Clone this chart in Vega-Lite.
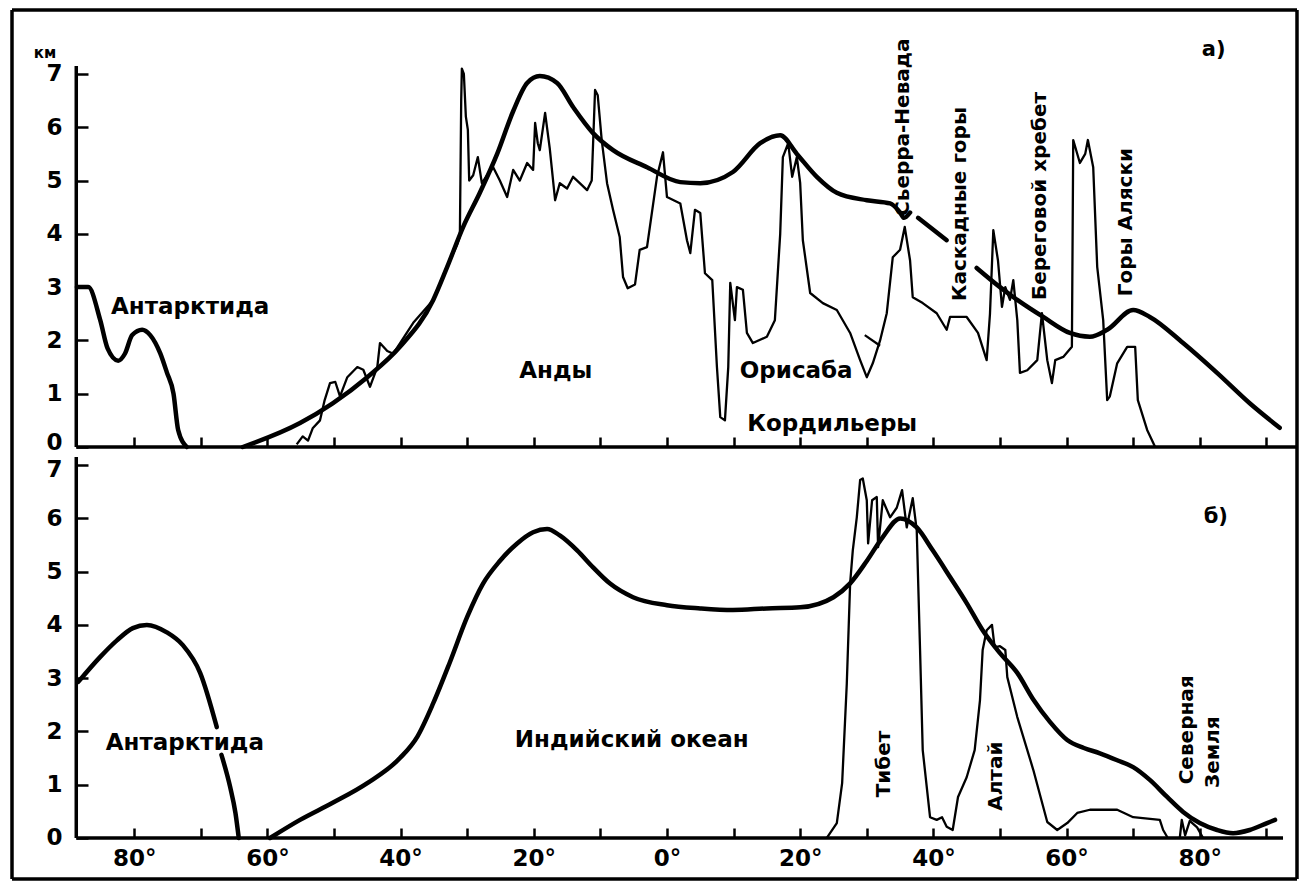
{
 "$schema": "https://vega.github.io/schema/vega-lite/v6.json",
 "background": "white",
 "padding": {"left": 10, "top": 8, "right": 2, "bottom": 2},
 "spacing": 0,
 "bounds": "flush",
 "datasets": {
  "lines": [
   {"p":"a","s":"smooth","g":1,"lon":-88.6,"km":3.0},{"p":"a","s":"smooth","g":1,"lon":-86.9,"km":3.0},{"p":"a","s":"smooth","g":1,"lon":-85.1,"km":2.38},{"p":"a","s":"smooth","g":1,"lon":-84.0,"km":1.85},{"p":"a","s":"smooth","g":1,"lon":-82.4,"km":1.62},{"p":"a","s":"smooth","g":1,"lon":-81.4,"km":1.75},{"p":"a","s":"smooth","g":1,"lon":-80.3,"km":2.1},{"p":"a","s":"smooth","g":1,"lon":-78.8,"km":2.2},{"p":"a","s":"smooth","g":1,"lon":-77.6,"km":2.1},{"p":"a","s":"smooth","g":1,"lon":-76.1,"km":1.76},{"p":"a","s":"smooth","g":1,"lon":-75.1,"km":1.4},{"p":"a","s":"smooth","g":1,"lon":-74.1,"km":1.0},{"p":"a","s":"smooth","g":1,"lon":-73.4,"km":0.32},{"p":"a","s":"smooth","g":1,"lon":-72.1,"km":0.0},
   {"p":"a","s":"smooth","g":2,"lon":-63.7,"km":0},{"p":"a","s":"smooth","g":2,"lon":-55.1,"km":0.45},{"p":"a","s":"smooth","g":2,"lon":-50.2,"km":0.82},{"p":"a","s":"smooth","g":2,"lon":-45.0,"km":1.31},{"p":"a","s":"smooth","g":2,"lon":-40.1,"km":1.88},{"p":"a","s":"smooth","g":2,"lon":-35.1,"km":2.76},{"p":"a","s":"smooth","g":2,"lon":-33.0,"km":3.38},{"p":"a","s":"smooth","g":2,"lon":-30.6,"km":4.13},{"p":"a","s":"smooth","g":2,"lon":-28.1,"km":4.77},{"p":"a","s":"smooth","g":2,"lon":-25.5,"km":5.5},{"p":"a","s":"smooth","g":2,"lon":-23.1,"km":6.3},{"p":"a","s":"smooth","g":2,"lon":-21.0,"km":6.83},{"p":"a","s":"smooth","g":2,"lon":-19.1,"km":6.96},{"p":"a","s":"smooth","g":2,"lon":-16.5,"km":6.83},{"p":"a","s":"smooth","g":2,"lon":-14.1,"km":6.38},{"p":"a","s":"smooth","g":2,"lon":-11.1,"km":5.89},{"p":"a","s":"smooth","g":2,"lon":-8.1,"km":5.57},{"p":"a","s":"smooth","g":2,"lon":-3.0,"km":5.25},{"p":"a","s":"smooth","g":2,"lon":2.0,"km":4.97},{"p":"a","s":"smooth","g":2,"lon":5.0,"km":4.95},{"p":"a","s":"smooth","g":2,"lon":9.9,"km":5.16},{"p":"a","s":"smooth","g":2,"lon":14.0,"km":5.7},{"p":"a","s":"smooth","g":2,"lon":17.0,"km":5.85},{"p":"a","s":"smooth","g":2,"lon":19.5,"km":5.5},{"p":"a","s":"smooth","g":2,"lon":22.5,"km":5.07},{"p":"a","s":"smooth","g":2,"lon":25.5,"km":4.77},{"p":"a","s":"smooth","g":2,"lon":30.0,"km":4.63},{"p":"a","s":"smooth","g":2,"lon":33.5,"km":4.57},{"p":"a","s":"smooth","g":2,"lon":35.0,"km":4.4},{"p":"a","s":"smooth","g":2,"lon":35.6,"km":4.3},{"p":"a","s":"smooth","g":2,"lon":36.5,"km":4.4},
   {"p":"a","s":"smooth","g":3,"lon":37.7,"km":4.3},{"p":"a","s":"smooth","g":3,"lon":42.0,"km":3.88},
   {"p":"a","s":"smooth","g":4,"lon":46.5,"km":3.36},{"p":"a","s":"smooth","g":4,"lon":50.0,"km":3.0},{"p":"a","s":"smooth","g":4,"lon":52.6,"km":2.76},{"p":"a","s":"smooth","g":4,"lon":56.5,"km":2.44},{"p":"a","s":"smooth","g":4,"lon":60.5,"km":2.14},{"p":"a","s":"smooth","g":4,"lon":63.5,"km":2.07},{"p":"a","s":"smooth","g":4,"lon":66.1,"km":2.2},{"p":"a","s":"smooth","g":4,"lon":70.0,"km":2.57},{"p":"a","s":"smooth","g":4,"lon":72.5,"km":2.44},{"p":"a","s":"smooth","g":4,"lon":77.5,"km":1.95},{"p":"a","s":"smooth","g":4,"lon":82.6,"km":1.39},{"p":"a","s":"smooth","g":4,"lon":87.5,"km":0.82},{"p":"a","s":"smooth","g":4,"lon":92.0,"km":0.36},

   {"p":"a","s":"relief","g":1,"lon":-55.6,"km":0.05},{"p":"a","s":"relief","g":1,"lon":-54.7,"km":0.2},{"p":"a","s":"relief","g":1,"lon":-53.9,"km":0.12},{"p":"a","s":"relief","g":1,"lon":-53.2,"km":0.35},{"p":"a","s":"relief","g":1,"lon":-52.1,"km":0.5},{"p":"a","s":"relief","g":1,"lon":-51.4,"km":0.88},{"p":"a","s":"relief","g":1,"lon":-50.6,"km":1.2},{"p":"a","s":"relief","g":1,"lon":-49.8,"km":1.22},{"p":"a","s":"relief","g":1,"lon":-49.1,"km":0.95},{"p":"a","s":"relief","g":1,"lon":-48.0,"km":1.31},{"p":"a","s":"relief","g":1,"lon":-46.5,"km":1.5},{"p":"a","s":"relief","g":1,"lon":-45.6,"km":1.45},{"p":"a","s":"relief","g":1,"lon":-44.6,"km":1.13},{"p":"a","s":"relief","g":1,"lon":-43.5,"km":1.5},{"p":"a","s":"relief","g":1,"lon":-43.1,"km":1.95},{"p":"a","s":"relief","g":1,"lon":-42.0,"km":1.8},{"p":"a","s":"relief","g":1,"lon":-41.1,"km":1.75},{"p":"a","s":"relief","g":1,"lon":-38.1,"km":2.33},{"p":"a","s":"relief","g":1,"lon":-35.1,"km":2.76},{"p":"a","s":"relief","g":1,"lon":-33.0,"km":3.38},{"p":"a","s":"relief","g":1,"lon":-31.5,"km":3.8},{"p":"a","s":"relief","g":1,"lon":-31.1,"km":3.95},{"p":"a","s":"relief","g":1,"lon":-30.9,"km":6.5},{"p":"a","s":"relief","g":1,"lon":-30.8,"km":7.1},{"p":"a","s":"relief","g":1,"lon":-30.5,"km":7.0},{"p":"a","s":"relief","g":1,"lon":-30.2,"km":6.2},{"p":"a","s":"relief","g":1,"lon":-29.9,"km":5.95},{"p":"a","s":"relief","g":1,"lon":-29.7,"km":5.0},{"p":"a","s":"relief","g":1,"lon":-29.1,"km":5.1},{"p":"a","s":"relief","g":1,"lon":-28.4,"km":5.44},{"p":"a","s":"relief","g":1,"lon":-27.8,"km":4.95},{"p":"a","s":"relief","g":1,"lon":-27.0,"km":5.1},{"p":"a","s":"relief","g":1,"lon":-26.1,"km":5.25},{"p":"a","s":"relief","g":1,"lon":-25.1,"km":5.0},{"p":"a","s":"relief","g":1,"lon":-24.0,"km":4.69},{"p":"a","s":"relief","g":1,"lon":-23.1,"km":5.2},{"p":"a","s":"relief","g":1,"lon":-22.1,"km":5.0},{"p":"a","s":"relief","g":1,"lon":-21.0,"km":5.33},{"p":"a","s":"relief","g":1,"lon":-20.1,"km":5.2},{"p":"a","s":"relief","g":1,"lon":-19.8,"km":6.08},{"p":"a","s":"relief","g":1,"lon":-19.4,"km":5.7},{"p":"a","s":"relief","g":1,"lon":-19.1,"km":5.57},{"p":"a","s":"relief","g":1,"lon":-18.3,"km":6.27},{"p":"a","s":"relief","g":1,"lon":-17.6,"km":5.6},{"p":"a","s":"relief","g":1,"lon":-16.8,"km":4.63},{"p":"a","s":"relief","g":1,"lon":-16.1,"km":4.95},{"p":"a","s":"relief","g":1,"lon":-15.0,"km":4.85},{"p":"a","s":"relief","g":1,"lon":-14.1,"km":5.07},{"p":"a","s":"relief","g":1,"lon":-13.1,"km":4.95},{"p":"a","s":"relief","g":1,"lon":-12.0,"km":4.82},{"p":"a","s":"relief","g":1,"lon":-11.3,"km":5.0},{"p":"a","s":"relief","g":1,"lon":-10.8,"km":6.7},{"p":"a","s":"relief","g":1,"lon":-10.4,"km":6.6},{"p":"a","s":"relief","g":1,"lon":-9.8,"km":5.76},{"p":"a","s":"relief","g":1,"lon":-9.0,"km":4.95},{"p":"a","s":"relief","g":1,"lon":-8.1,"km":4.45},{"p":"a","s":"relief","g":1,"lon":-7.1,"km":3.94},{"p":"a","s":"relief","g":1,"lon":-6.6,"km":3.19},{"p":"a","s":"relief","g":1,"lon":-5.9,"km":2.98},{"p":"a","s":"relief","g":1,"lon":-4.8,"km":3.05},{"p":"a","s":"relief","g":1,"lon":-4.1,"km":3.7},{"p":"a","s":"relief","g":1,"lon":-3.0,"km":3.75},{"p":"a","s":"relief","g":1,"lon":-1.5,"km":5.07},{"p":"a","s":"relief","g":1,"lon":-0.6,"km":5.53},{"p":"a","s":"relief","g":1,"lon":0.0,"km":4.69},{"p":"a","s":"relief","g":1,"lon":2.0,"km":4.57},{"p":"a","s":"relief","g":1,"lon":3.0,"km":3.88},{"p":"a","s":"relief","g":1,"lon":3.5,"km":3.64},{"p":"a","s":"relief","g":1,"lon":4.2,"km":4.45},{"p":"a","s":"relief","g":1,"lon":5.0,"km":4.39},{"p":"a","s":"relief","g":1,"lon":5.7,"km":3.26},{"p":"a","s":"relief","g":1,"lon":6.8,"km":3.13},{"p":"a","s":"relief","g":1,"lon":7.5,"km":1.5},{"p":"a","s":"relief","g":1,"lon":8.0,"km":0.56},{"p":"a","s":"relief","g":1,"lon":8.7,"km":0.5},{"p":"a","s":"relief","g":1,"lon":9.2,"km":1.5},{"p":"a","s":"relief","g":1,"lon":9.5,"km":3.08},{"p":"a","s":"relief","g":1,"lon":10.2,"km":2.38},{"p":"a","s":"relief","g":1,"lon":10.5,"km":3.0},{"p":"a","s":"relief","g":1,"lon":11.4,"km":2.95},{"p":"a","s":"relief","g":1,"lon":12.0,"km":2.14},{"p":"a","s":"relief","g":1,"lon":12.9,"km":1.95},{"p":"a","s":"relief","g":1,"lon":15.0,"km":2.07},{"p":"a","s":"relief","g":1,"lon":16.2,"km":2.38},{"p":"a","s":"relief","g":1,"lon":17.0,"km":4.0},{"p":"a","s":"relief","g":1,"lon":17.4,"km":5.44},{"p":"a","s":"relief","g":1,"lon":18.2,"km":5.7},{"p":"a","s":"relief","g":1,"lon":18.8,"km":5.07},{"p":"a","s":"relief","g":1,"lon":19.5,"km":5.44},{"p":"a","s":"relief","g":1,"lon":20.0,"km":4.95},{"p":"a","s":"relief","g":1,"lon":20.4,"km":3.88},{"p":"a","s":"relief","g":1,"lon":21.5,"km":2.89},{"p":"a","s":"relief","g":1,"lon":23.4,"km":2.7},{"p":"a","s":"relief","g":1,"lon":25.5,"km":2.57},{"p":"a","s":"relief","g":1,"lon":27.5,"km":2.14},{"p":"a","s":"relief","g":1,"lon":29.0,"km":1.63},{"p":"a","s":"relief","g":1,"lon":30.0,"km":1.31},{"p":"a","s":"relief","g":1,"lon":30.9,"km":1.57},{"p":"a","s":"relief","g":1,"lon":32.0,"km":2.0},{"p":"a","s":"relief","g":1,"lon":33.0,"km":2.51},{"p":"a","s":"relief","g":1,"lon":33.9,"km":3.56},{"p":"a","s":"relief","g":1,"lon":35.0,"km":3.7},{"p":"a","s":"relief","g":1,"lon":35.7,"km":4.13},{"p":"a","s":"relief","g":1,"lon":36.5,"km":3.5},{"p":"a","s":"relief","g":1,"lon":36.9,"km":2.81},{"p":"a","s":"relief","g":1,"lon":38.4,"km":2.7},{"p":"a","s":"relief","g":1,"lon":40.5,"km":2.51},{"p":"a","s":"relief","g":1,"lon":42.0,"km":2.2},{"p":"a","s":"relief","g":1,"lon":42.5,"km":2.44},{"p":"a","s":"relief","g":1,"lon":45.0,"km":2.44},{"p":"a","s":"relief","g":1,"lon":46.7,"km":2.14},{"p":"a","s":"relief","g":1,"lon":48.0,"km":1.63},{"p":"a","s":"relief","g":1,"lon":48.5,"km":2.5},{"p":"a","s":"relief","g":1,"lon":49.0,"km":4.07},{"p":"a","s":"relief","g":1,"lon":49.7,"km":3.5},{"p":"a","s":"relief","g":1,"lon":50.3,"km":2.63},{"p":"a","s":"relief","g":1,"lon":50.8,"km":3.0},{"p":"a","s":"relief","g":1,"lon":51.5,"km":2.76},{"p":"a","s":"relief","g":1,"lon":52.0,"km":3.13},{"p":"a","s":"relief","g":1,"lon":52.6,"km":2.38},{"p":"a","s":"relief","g":1,"lon":53.0,"km":1.39},{"p":"a","s":"relief","g":1,"lon":54.1,"km":1.44},{"p":"a","s":"relief","g":1,"lon":55.6,"km":1.63},{"p":"a","s":"relief","g":1,"lon":56.3,"km":2.51},{"p":"a","s":"relief","g":1,"lon":57.1,"km":1.63},{"p":"a","s":"relief","g":1,"lon":57.8,"km":1.2},{"p":"a","s":"relief","g":1,"lon":58.3,"km":1.63},{"p":"a","s":"relief","g":1,"lon":59.5,"km":1.69},{"p":"a","s":"relief","g":1,"lon":60.8,"km":1.88},{"p":"a","s":"relief","g":1,"lon":61.0,"km":5.76},{"p":"a","s":"relief","g":1,"lon":62.0,"km":5.33},{"p":"a","s":"relief","g":1,"lon":62.8,"km":5.5},{"p":"a","s":"relief","g":1,"lon":63.2,"km":5.76},{"p":"a","s":"relief","g":1,"lon":64.0,"km":5.25},{"p":"a","s":"relief","g":1,"lon":64.6,"km":3.38},{"p":"a","s":"relief","g":1,"lon":65.5,"km":2.38},{"p":"a","s":"relief","g":1,"lon":66.1,"km":0.88},{"p":"a","s":"relief","g":1,"lon":66.5,"km":0.95},{"p":"a","s":"relief","g":1,"lon":67.6,"km":1.57},{"p":"a","s":"relief","g":1,"lon":69.1,"km":1.88},{"p":"a","s":"relief","g":1,"lon":70.3,"km":1.88},{"p":"a","s":"relief","g":1,"lon":70.7,"km":0.88},{"p":"a","s":"relief","g":1,"lon":72.1,"km":0.32},{"p":"a","s":"relief","g":1,"lon":73.3,"km":0.0},
   {"p":"a","s":"relief","g":2,"lon":29.7,"km":2.1},{"p":"a","s":"relief","g":2,"lon":32.0,"km":1.9},

   {"p":"b","s":"smooth","g":1,"lon":-88.4,"km":2.93},{"p":"b","s":"smooth","g":1,"lon":-85.1,"km":3.4},{"p":"b","s":"smooth","g":1,"lon":-82.6,"km":3.71},{"p":"b","s":"smooth","g":1,"lon":-80.2,"km":3.94},{"p":"b","s":"smooth","g":1,"lon":-78.1,"km":4.0},{"p":"b","s":"smooth","g":1,"lon":-75.1,"km":3.86},{"p":"b","s":"smooth","g":1,"lon":-72.7,"km":3.62},{"p":"b","s":"smooth","g":1,"lon":-70.1,"km":3.1},{"p":"b","s":"smooth","g":1,"lon":-67.6,"km":2.08},
   {"p":"b","s":"smooth","g":2,"lon":-66.9,"km":1.56},{"p":"b","s":"smooth","g":2,"lon":-65.6,"km":0.96},{"p":"b","s":"smooth","g":2,"lon":-64.8,"km":0.47},{"p":"b","s":"smooth","g":2,"lon":-64.3,"km":0},
   {"p":"b","s":"smooth","g":3,"lon":-59.6,"km":0},{"p":"b","s":"smooth","g":3,"lon":-55.1,"km":0.34},{"p":"b","s":"smooth","g":3,"lon":-50.2,"km":0.66},{"p":"b","s":"smooth","g":3,"lon":-45.0,"km":1.03},{"p":"b","s":"smooth","g":3,"lon":-40.1,"km":1.5},{"p":"b","s":"smooth","g":3,"lon":-37.5,"km":1.9},{"p":"b","s":"smooth","g":3,"lon":-35.1,"km":2.53},{"p":"b","s":"smooth","g":3,"lon":-32.6,"km":3.3},{"p":"b","s":"smooth","g":3,"lon":-30.0,"km":4.15},{"p":"b","s":"smooth","g":3,"lon":-27.6,"km":4.78},{"p":"b","s":"smooth","g":3,"lon":-25.1,"km":5.2},{"p":"b","s":"smooth","g":3,"lon":-22.5,"km":5.53},{"p":"b","s":"smooth","g":3,"lon":-20.1,"km":5.74},{"p":"b","s":"smooth","g":3,"lon":-18.0,"km":5.8},{"p":"b","s":"smooth","g":3,"lon":-16.1,"km":5.68},{"p":"b","s":"smooth","g":3,"lon":-13.5,"km":5.4},{"p":"b","s":"smooth","g":3,"lon":-11.1,"km":5.08},{"p":"b","s":"smooth","g":3,"lon":-8.6,"km":4.78},{"p":"b","s":"smooth","g":3,"lon":-5.1,"km":4.52},{"p":"b","s":"smooth","g":3,"lon":0.0,"km":4.37},{"p":"b","s":"smooth","g":3,"lon":5.0,"km":4.31},{"p":"b","s":"smooth","g":3,"lon":9.9,"km":4.28},{"p":"b","s":"smooth","g":3,"lon":15.0,"km":4.31},{"p":"b","s":"smooth","g":3,"lon":20.0,"km":4.33},{"p":"b","s":"smooth","g":3,"lon":25.0,"km":4.52},{"p":"b","s":"smooth","g":3,"lon":27.5,"km":4.78},{"p":"b","s":"smooth","g":3,"lon":30.0,"km":5.2},{"p":"b","s":"smooth","g":3,"lon":32.4,"km":5.65},{"p":"b","s":"smooth","g":3,"lon":35.0,"km":6.0},{"p":"b","s":"smooth","g":3,"lon":37.5,"km":5.83},{"p":"b","s":"smooth","g":3,"lon":39.9,"km":5.4},{"p":"b","s":"smooth","g":3,"lon":42.5,"km":4.9},{"p":"b","s":"smooth","g":3,"lon":45.0,"km":4.41},{"p":"b","s":"smooth","g":3,"lon":47.4,"km":3.9},{"p":"b","s":"smooth","g":3,"lon":50.0,"km":3.47},{"p":"b","s":"smooth","g":3,"lon":52.6,"km":3.1},{"p":"b","s":"smooth","g":3,"lon":55.0,"km":2.6},{"p":"b","s":"smooth","g":3,"lon":57.5,"km":2.18},{"p":"b","s":"smooth","g":3,"lon":60.1,"km":1.84},{"p":"b","s":"smooth","g":3,"lon":62.6,"km":1.69},{"p":"b","s":"smooth","g":3,"lon":65.0,"km":1.59},{"p":"b","s":"smooth","g":3,"lon":67.6,"km":1.46},{"p":"b","s":"smooth","g":3,"lon":70.0,"km":1.33},{"p":"b","s":"smooth","g":3,"lon":72.5,"km":1.09},{"p":"b","s":"smooth","g":3,"lon":75.1,"km":0.77},{"p":"b","s":"smooth","g":3,"lon":77.5,"km":0.49},{"p":"b","s":"smooth","g":3,"lon":80.0,"km":0.28},{"p":"b","s":"smooth","g":3,"lon":82.6,"km":0.15},{"p":"b","s":"smooth","g":3,"lon":85.0,"km":0.09},{"p":"b","s":"smooth","g":3,"lon":87.5,"km":0.15},{"p":"b","s":"smooth","g":3,"lon":90.1,"km":0.28},{"p":"b","s":"smooth","g":3,"lon":91.3,"km":0.34},

   {"p":"b","s":"relief","g":1,"lon":24.0,"km":0},{"p":"b","s":"relief","g":1,"lon":25.5,"km":0.28},{"p":"b","s":"relief","g":1,"lon":26.3,"km":1.03},{"p":"b","s":"relief","g":1,"lon":27.0,"km":2.9},{"p":"b","s":"relief","g":1,"lon":27.5,"km":4.78},{"p":"b","s":"relief","g":1,"lon":27.9,"km":5.4},{"p":"b","s":"relief","g":1,"lon":28.5,"km":6.02},{"p":"b","s":"relief","g":1,"lon":29.0,"km":6.72},{"p":"b","s":"relief","g":1,"lon":29.4,"km":6.75},{"p":"b","s":"relief","g":1,"lon":30.0,"km":6.34},{"p":"b","s":"relief","g":1,"lon":30.2,"km":5.53},{"p":"b","s":"relief","g":1,"lon":30.8,"km":6.34},{"p":"b","s":"relief","g":1,"lon":31.5,"km":6.4},{"p":"b","s":"relief","g":1,"lon":31.7,"km":5.46},{"p":"b","s":"relief","g":1,"lon":32.4,"km":6.34},{"p":"b","s":"relief","g":1,"lon":33.5,"km":6.02},{"p":"b","s":"relief","g":1,"lon":34.5,"km":6.2},{"p":"b","s":"relief","g":1,"lon":35.3,"km":6.53},{"p":"b","s":"relief","g":1,"lon":36.0,"km":5.83},{"p":"b","s":"relief","g":1,"lon":36.9,"km":6.38},{"p":"b","s":"relief","g":1,"lon":37.5,"km":5.78},{"p":"b","s":"relief","g":1,"lon":38.0,"km":3.53},{"p":"b","s":"relief","g":1,"lon":38.4,"km":1.65},{"p":"b","s":"relief","g":1,"lon":39.5,"km":0.39},{"p":"b","s":"relief","g":1,"lon":40.5,"km":0.34},{"p":"b","s":"relief","g":1,"lon":41.3,"km":0.39},{"p":"b","s":"relief","g":1,"lon":42.0,"km":0.21},{"p":"b","s":"relief","g":1,"lon":42.9,"km":0.15},{"p":"b","s":"relief","g":1,"lon":43.7,"km":0.77},{"p":"b","s":"relief","g":1,"lon":45.0,"km":1.14},{"p":"b","s":"relief","g":1,"lon":46.2,"km":1.65},{"p":"b","s":"relief","g":1,"lon":47.0,"km":2.59},{"p":"b","s":"relief","g":1,"lon":47.4,"km":3.53},{"p":"b","s":"relief","g":1,"lon":48.0,"km":3.9},{"p":"b","s":"relief","g":1,"lon":48.8,"km":4.0},{"p":"b","s":"relief","g":1,"lon":49.2,"km":3.58},{"p":"b","s":"relief","g":1,"lon":50.0,"km":3.6},{"p":"b","s":"relief","g":1,"lon":50.8,"km":3.53},{"p":"b","s":"relief","g":1,"lon":51.1,"km":3.02},{"p":"b","s":"relief","g":1,"lon":52.6,"km":2.27},{"p":"b","s":"relief","g":1,"lon":55.0,"km":1.28},{"p":"b","s":"relief","g":1,"lon":57.1,"km":0.3},{"p":"b","s":"relief","g":1,"lon":58.6,"km":0.15},{"p":"b","s":"relief","g":1,"lon":60.1,"km":0.28},{"p":"b","s":"relief","g":1,"lon":61.6,"km":0.47},{"p":"b","s":"relief","g":1,"lon":63.5,"km":0.53},{"p":"b","s":"relief","g":1,"lon":67.6,"km":0.53},{"p":"b","s":"relief","g":1,"lon":70.0,"km":0.39},{"p":"b","s":"relief","g":1,"lon":74.0,"km":0.34},{"p":"b","s":"relief","g":1,"lon":74.5,"km":0.15},{"p":"b","s":"relief","g":1,"lon":75.2,"km":0.0},
   {"p":"b","s":"relief","g":2,"lon":77.0,"km":0},{"p":"b","s":"relief","g":2,"lon":77.3,"km":0.34},{"p":"b","s":"relief","g":2,"lon":77.8,"km":0.05},{"p":"b","s":"relief","g":2,"lon":78.5,"km":0.32},{"p":"b","s":"relief","g":2,"lon":79.6,"km":0.2},{"p":"b","s":"relief","g":2,"lon":80.5,"km":0.0}
  ],
  "hlabels": [
   {"p":"a","t":"Антарктида","lon":-71.6,"km":2.63},
   {"p":"a","t":"Анды","lon":-16.7,"km":1.43},
   {"p":"a","t":"Орисаба","lon":19.4,"km":1.43},
   {"p":"a","t":"Кордильеры","lon":24.8,"km":0.43},
   {"p":"b","t":"Антарктида","lon":-72.4,"km":1.78},
   {"p":"b","t":"Индийский океан","lon":-5.3,"km":1.84}
  ],
  "vlabels": [
   {"p":"a","t":"Сьерра-Невада","lon":35.4,"km":6.0},
   {"p":"a","t":"Каскадные горы","lon":44.0,"km":4.56},
   {"p":"a","t":"Береговой хребет","lon":56.0,"km":4.71},
   {"p":"a","t":"Горы Аляски","lon":68.9,"km":4.22},
   {"p":"b","t":"Тибет","lon":32.6,"km":1.39},
   {"p":"b","t":"Алтай","lon":49.4,"km":1.16},
   {"p":"b","t":"Северная","lon":78.1,"km":2.03},
   {"p":"b","t":"Земля","lon":82.0,"km":1.61}
  ],
  "tags": [
   {"p":"a","t":"а)","lon":82.1,"km":7.45},
   {"p":"b","t":"б)","lon":82.4,"km":6.02}
  ]
 },
 "vconcat": [
  {
   "width": 1285, "height": 437,
   "layer": [
    {"data": {"name": "lines"}, "transform": [{"filter": "datum.p == 'a' && datum.s == 'relief'"}],
     "mark": {"type": "line", "strokeWidth": 2.3, "strokeJoin": "round", "color": "black"},
     "encoding": {
      "x": {"field": "lon", "type": "quantitative", "scale": {"domain": [-98.35, 94.6], "nice": false, "zero": false},
            "axis": {"values": [-80,-70,-60,-50,-40,-30,-20,-10,0,10,20,30,40,50,60,70,80,90], "labels": false, "tickSize": -10, "domain": false, "grid": false, "title": null}},
      "y": {"field": "km", "type": "quantitative", "scale": {"domain": [0, 8.2], "nice": false, "zero": false},
            "axis": {"values": [0,1,2,3,4,5,6,7], "tickSize": -12, "labelPadding": 26, "labelOffset": {"condition": {"test": "datum.value == 0", "value": -5}, "value": 0}, "offset": -64, "domain": false, "grid": false, "title": null}},
      "detail": {"field": "g", "type": "nominal"}}},
    {"data": {"name": "lines"}, "transform": [{"filter": "datum.p == 'a' && datum.s == 'smooth'"}],
     "mark": {"type": "line", "strokeWidth": 4.5, "interpolate": "monotone", "strokeCap": "round", "color": "black"},
     "encoding": {
      "x": {"field": "lon", "type": "quantitative", "scale": {"domain": [-98.35, 94.6], "nice": false, "zero": false},
            "axis": {"values": [-80,-70,-60,-50,-40,-30,-20,-10,0,10,20,30,40,50,60,70,80,90], "labels": false, "tickSize": -10, "domain": false, "grid": false, "title": null}},
      "y": {"field": "km", "type": "quantitative", "scale": {"domain": [0, 8.2], "nice": false, "zero": false},
            "axis": {"values": [0,1,2,3,4,5,6,7], "tickSize": -12, "labelPadding": 26, "labelOffset": {"condition": {"test": "datum.value == 0", "value": -5}, "value": 0}, "offset": -64, "domain": false, "grid": false, "title": null}},
      "detail": {"field": "g", "type": "nominal"}}},
    {"data": {"values": [{}]}, "mark": {"type": "rule", "strokeWidth": 3.5, "color": "black"},
     "encoding": {"x": {"datum": -98.35, "type": "quantitative", "scale": {"domain": [-98.35, 94.6], "nice": false, "zero": false},
            "axis": {"values": [-80,-70,-60,-50,-40,-30,-20,-10,0,10,20,30,40,50,60,70,80,90], "labels": false, "tickSize": -10, "domain": false, "grid": false, "title": null}},
                  "y": {"datum": 0, "type": "quantitative", "scale": {"domain": [0, 8.2], "nice": false, "zero": false},
            "axis": {"values": [0,1,2,3,4,5,6,7], "tickSize": -12, "labelPadding": 26, "labelOffset": {"condition": {"test": "datum.value == 0", "value": -5}, "value": 0}, "offset": -64, "domain": false, "grid": false, "title": null}}, "y2": {"datum": 8.2}}},
    {"data": {"values": [{}]}, "mark": {"type": "rule", "strokeWidth": 3.5, "color": "black"},
     "encoding": {"x": {"datum": 94.6, "type": "quantitative", "scale": {"domain": [-98.35, 94.6], "nice": false, "zero": false},
            "axis": {"values": [-80,-70,-60,-50,-40,-30,-20,-10,0,10,20,30,40,50,60,70,80,90], "labels": false, "tickSize": -10, "domain": false, "grid": false, "title": null}},
                  "y": {"datum": 0, "type": "quantitative", "scale": {"domain": [0, 8.2], "nice": false, "zero": false},
            "axis": {"values": [0,1,2,3,4,5,6,7], "tickSize": -12, "labelPadding": 26, "labelOffset": {"condition": {"test": "datum.value == 0", "value": -5}, "value": 0}, "offset": -64, "domain": false, "grid": false, "title": null}}, "y2": {"datum": 8.2}}},
    {"data": {"values": [{}]}, "mark": {"type": "rule", "strokeWidth": 3.5, "color": "black"},
     "encoding": {"x": {"datum": -98.35, "type": "quantitative", "scale": {"domain": [-98.35, 94.6], "nice": false, "zero": false},
            "axis": {"values": [-80,-70,-60,-50,-40,-30,-20,-10,0,10,20,30,40,50,60,70,80,90], "labels": false, "tickSize": -10, "domain": false, "grid": false, "title": null}}, "x2": {"datum": 94.6},
                  "y": {"datum": 8.2, "type": "quantitative", "scale": {"domain": [0, 8.2], "nice": false, "zero": false},
            "axis": {"values": [0,1,2,3,4,5,6,7], "tickSize": -12, "labelPadding": 26, "labelOffset": {"condition": {"test": "datum.value == 0", "value": -5}, "value": 0}, "offset": -64, "domain": false, "grid": false, "title": null}}}},
    {"data": {"values": [{}]}, "mark": {"type": "rule", "strokeWidth": 3.5, "color": "black"},
     "encoding": {"x": {"datum": -88.7, "type": "quantitative", "scale": {"domain": [-98.35, 94.6], "nice": false, "zero": false},
            "axis": {"values": [-80,-70,-60,-50,-40,-30,-20,-10,0,10,20,30,40,50,60,70,80,90], "labels": false, "tickSize": -10, "domain": false, "grid": false, "title": null}}, "x2": {"datum": 94.6},
                  "y": {"datum": 0, "type": "quantitative", "scale": {"domain": [0, 8.2], "nice": false, "zero": false},
            "axis": {"values": [0,1,2,3,4,5,6,7], "tickSize": -12, "labelPadding": 26, "labelOffset": {"condition": {"test": "datum.value == 0", "value": -5}, "value": 0}, "offset": -64, "domain": false, "grid": false, "title": null}}}},
    {"data": {"values": [{}]}, "mark": {"type": "rule", "strokeWidth": 3.5, "color": "black"},
     "encoding": {"x": {"datum": -88.7, "type": "quantitative", "scale": {"domain": [-98.35, 94.6], "nice": false, "zero": false},
            "axis": {"values": [-80,-70,-60,-50,-40,-30,-20,-10,0,10,20,30,40,50,60,70,80,90], "labels": false, "tickSize": -10, "domain": false, "grid": false, "title": null}},
                  "y": {"datum": 0, "type": "quantitative", "scale": {"domain": [0, 8.2], "nice": false, "zero": false},
            "axis": {"values": [0,1,2,3,4,5,6,7], "tickSize": -12, "labelPadding": 26, "labelOffset": {"condition": {"test": "datum.value == 0", "value": -5}, "value": 0}, "offset": -64, "domain": false, "grid": false, "title": null}}, "y2": {"datum": 7.15}}},
    {"data": {"values": [{}]}, "mark": {"type": "text", "text": "км", "fontSize": 15, "align": "center", "baseline": "middle"},
     "encoding": {"x": {"datum": -93.4, "type": "quantitative", "scale": {"domain": [-98.35, 94.6], "nice": false, "zero": false},
            "axis": {"values": [-80,-70,-60,-50,-40,-30,-20,-10,0,10,20,30,40,50,60,70,80,90], "labels": false, "tickSize": -10, "domain": false, "grid": false, "title": null}},
                  "y": {"datum": 7.39, "type": "quantitative", "scale": {"domain": [0, 8.2], "nice": false, "zero": false},
            "axis": {"values": [0,1,2,3,4,5,6,7], "tickSize": -12, "labelPadding": 26, "labelOffset": {"condition": {"test": "datum.value == 0", "value": -5}, "value": 0}, "offset": -64, "domain": false, "grid": false, "title": null}}}},
    {"data": {"name": "hlabels"}, "transform": [{"filter": "datum.p == 'a'"}],
     "mark": {"type": "text", "fontSize": 23, "align": "center", "baseline": "middle"},
     "encoding": {"x": {"field": "lon", "type": "quantitative", "scale": {"domain": [-98.35, 94.6], "nice": false, "zero": false},
            "axis": {"values": [-80,-70,-60,-50,-40,-30,-20,-10,0,10,20,30,40,50,60,70,80,90], "labels": false, "tickSize": -10, "domain": false, "grid": false, "title": null}},
                  "y": {"field": "km", "type": "quantitative", "scale": {"domain": [0, 8.2], "nice": false, "zero": false},
            "axis": {"values": [0,1,2,3,4,5,6,7], "tickSize": -12, "labelPadding": 26, "labelOffset": {"condition": {"test": "datum.value == 0", "value": -5}, "value": 0}, "offset": -64, "domain": false, "grid": false, "title": null}},
                  "text": {"field": "t"}}},
    {"data": {"name": "vlabels"}, "transform": [{"filter": "datum.p == 'a'"}],
     "mark": {"type": "text", "fontSize": 20, "angle": 270, "align": "center", "baseline": "middle"},
     "encoding": {"x": {"field": "lon", "type": "quantitative", "scale": {"domain": [-98.35, 94.6], "nice": false, "zero": false},
            "axis": {"values": [-80,-70,-60,-50,-40,-30,-20,-10,0,10,20,30,40,50,60,70,80,90], "labels": false, "tickSize": -10, "domain": false, "grid": false, "title": null}},
                  "y": {"field": "km", "type": "quantitative", "scale": {"domain": [0, 8.2], "nice": false, "zero": false},
            "axis": {"values": [0,1,2,3,4,5,6,7], "tickSize": -12, "labelPadding": 26, "labelOffset": {"condition": {"test": "datum.value == 0", "value": -5}, "value": 0}, "offset": -64, "domain": false, "grid": false, "title": null}},
                  "text": {"field": "t"}}},
    {"data": {"name": "tags"}, "transform": [{"filter": "datum.p == 'a'"}],
     "mark": {"type": "text", "fontSize": 21, "align": "center", "baseline": "middle"},
     "encoding": {"x": {"field": "lon", "type": "quantitative", "scale": {"domain": [-98.35, 94.6], "nice": false, "zero": false},
            "axis": {"values": [-80,-70,-60,-50,-40,-30,-20,-10,0,10,20,30,40,50,60,70,80,90], "labels": false, "tickSize": -10, "domain": false, "grid": false, "title": null}},
                  "y": {"field": "km", "type": "quantitative", "scale": {"domain": [0, 8.2], "nice": false, "zero": false},
            "axis": {"values": [0,1,2,3,4,5,6,7], "tickSize": -12, "labelPadding": 26, "labelOffset": {"condition": {"test": "datum.value == 0", "value": -5}, "value": 0}, "offset": -64, "domain": false, "grid": false, "title": null}},
                  "text": {"field": "t"}}}
   ]
  },
  {
   "width": 1285, "height": 432,
   "layer": [
    {"data": {"name": "lines"}, "transform": [{"filter": "datum.p == 'b' && datum.s == 'relief'"}],
     "mark": {"type": "line", "strokeWidth": 2.3, "strokeJoin": "round", "color": "black"},
     "encoding": {
      "x": {"field": "lon", "type": "quantitative", "scale": {"domain": [-98.35, 94.6], "nice": false, "zero": false},
            "axis": {"values": [-80,-70,-60,-50,-40,-30,-20,-10,0,10,20,30,40,50,60,70,80,90], "labelExpr": "datum.value % 20 == 0 ? abs(datum.value) + '°' : ''", "tickSize": -10, "labelPadding": 19, "offset": -41, "domain": false, "grid": false, "title": null}},
      "y": {"field": "km", "type": "quantitative", "scale": {"domain": [-0.77, 7.34], "nice": false, "zero": false},
            "axis": {"values": [0,1,2,3,4,5,6,7], "tickSize": -12, "labelPadding": 26, "labelOffset": {"condition": {"test": "datum.value == 7", "value": 4}, "value": 0}, "offset": -64, "domain": false, "grid": false, "title": null}},
      "detail": {"field": "g", "type": "nominal"}}},
    {"data": {"name": "lines"}, "transform": [{"filter": "datum.p == 'b' && datum.s == 'smooth'"}],
     "mark": {"type": "line", "strokeWidth": 4.5, "interpolate": "monotone", "strokeCap": "round", "color": "black"},
     "encoding": {
      "x": {"field": "lon", "type": "quantitative", "scale": {"domain": [-98.35, 94.6], "nice": false, "zero": false},
            "axis": {"values": [-80,-70,-60,-50,-40,-30,-20,-10,0,10,20,30,40,50,60,70,80,90], "labelExpr": "datum.value % 20 == 0 ? abs(datum.value) + '°' : ''", "tickSize": -10, "labelPadding": 19, "offset": -41, "domain": false, "grid": false, "title": null}},
      "y": {"field": "km", "type": "quantitative", "scale": {"domain": [-0.77, 7.34], "nice": false, "zero": false},
            "axis": {"values": [0,1,2,3,4,5,6,7], "tickSize": -12, "labelPadding": 26, "labelOffset": {"condition": {"test": "datum.value == 7", "value": 4}, "value": 0}, "offset": -64, "domain": false, "grid": false, "title": null}},
      "detail": {"field": "g", "type": "nominal"}}},
    {"data": {"values": [{}]}, "mark": {"type": "rule", "strokeWidth": 3.5, "color": "black"},
     "encoding": {"x": {"datum": -98.35, "type": "quantitative", "scale": {"domain": [-98.35, 94.6], "nice": false, "zero": false},
            "axis": {"values": [-80,-70,-60,-50,-40,-30,-20,-10,0,10,20,30,40,50,60,70,80,90], "labelExpr": "datum.value % 20 == 0 ? abs(datum.value) + '°' : ''", "tickSize": -10, "labelPadding": 19, "offset": -41, "domain": false, "grid": false, "title": null}},
                  "y": {"datum": -0.77, "type": "quantitative", "scale": {"domain": [-0.77, 7.34], "nice": false, "zero": false},
            "axis": {"values": [0,1,2,3,4,5,6,7], "tickSize": -12, "labelPadding": 26, "labelOffset": {"condition": {"test": "datum.value == 7", "value": 4}, "value": 0}, "offset": -64, "domain": false, "grid": false, "title": null}}, "y2": {"datum": 7.34}}},
    {"data": {"values": [{}]}, "mark": {"type": "rule", "strokeWidth": 3.5, "color": "black"},
     "encoding": {"x": {"datum": 94.6, "type": "quantitative", "scale": {"domain": [-98.35, 94.6], "nice": false, "zero": false},
            "axis": {"values": [-80,-70,-60,-50,-40,-30,-20,-10,0,10,20,30,40,50,60,70,80,90], "labelExpr": "datum.value % 20 == 0 ? abs(datum.value) + '°' : ''", "tickSize": -10, "labelPadding": 19, "offset": -41, "domain": false, "grid": false, "title": null}},
                  "y": {"datum": -0.77, "type": "quantitative", "scale": {"domain": [-0.77, 7.34], "nice": false, "zero": false},
            "axis": {"values": [0,1,2,3,4,5,6,7], "tickSize": -12, "labelPadding": 26, "labelOffset": {"condition": {"test": "datum.value == 7", "value": 4}, "value": 0}, "offset": -64, "domain": false, "grid": false, "title": null}}, "y2": {"datum": 7.34}}},
    {"data": {"values": [{}]}, "mark": {"type": "rule", "strokeWidth": 3.5, "color": "black"},
     "encoding": {"x": {"datum": -98.35, "type": "quantitative", "scale": {"domain": [-98.35, 94.6], "nice": false, "zero": false},
            "axis": {"values": [-80,-70,-60,-50,-40,-30,-20,-10,0,10,20,30,40,50,60,70,80,90], "labelExpr": "datum.value % 20 == 0 ? abs(datum.value) + '°' : ''", "tickSize": -10, "labelPadding": 19, "offset": -41, "domain": false, "grid": false, "title": null}}, "x2": {"datum": 94.6},
                  "y": {"datum": -0.77, "type": "quantitative", "scale": {"domain": [-0.77, 7.34], "nice": false, "zero": false},
            "axis": {"values": [0,1,2,3,4,5,6,7], "tickSize": -12, "labelPadding": 26, "labelOffset": {"condition": {"test": "datum.value == 7", "value": 4}, "value": 0}, "offset": -64, "domain": false, "grid": false, "title": null}}}},
    {"data": {"values": [{}]}, "mark": {"type": "rule", "strokeWidth": 3.5, "color": "black"},
     "encoding": {"x": {"datum": -88.7, "type": "quantitative", "scale": {"domain": [-98.35, 94.6], "nice": false, "zero": false},
            "axis": {"values": [-80,-70,-60,-50,-40,-30,-20,-10,0,10,20,30,40,50,60,70,80,90], "labelExpr": "datum.value % 20 == 0 ? abs(datum.value) + '°' : ''", "tickSize": -10, "labelPadding": 19, "offset": -41, "domain": false, "grid": false, "title": null}}, "x2": {"datum": 92.5},
                  "y": {"datum": 0, "type": "quantitative", "scale": {"domain": [-0.77, 7.34], "nice": false, "zero": false},
            "axis": {"values": [0,1,2,3,4,5,6,7], "tickSize": -12, "labelPadding": 26, "labelOffset": {"condition": {"test": "datum.value == 7", "value": 4}, "value": 0}, "offset": -64, "domain": false, "grid": false, "title": null}}}},
    {"data": {"values": [{}]}, "mark": {"type": "rule", "strokeWidth": 3.5, "color": "black"},
     "encoding": {"x": {"datum": -88.7, "type": "quantitative", "scale": {"domain": [-98.35, 94.6], "nice": false, "zero": false},
            "axis": {"values": [-80,-70,-60,-50,-40,-30,-20,-10,0,10,20,30,40,50,60,70,80,90], "labelExpr": "datum.value % 20 == 0 ? abs(datum.value) + '°' : ''", "tickSize": -10, "labelPadding": 19, "offset": -41, "domain": false, "grid": false, "title": null}},
                  "y": {"datum": 0, "type": "quantitative", "scale": {"domain": [-0.77, 7.34], "nice": false, "zero": false},
            "axis": {"values": [0,1,2,3,4,5,6,7], "tickSize": -12, "labelPadding": 26, "labelOffset": {"condition": {"test": "datum.value == 7", "value": 4}, "value": 0}, "offset": -64, "domain": false, "grid": false, "title": null}}, "y2": {"datum": 7.15}}},
    {"data": {"name": "hlabels"}, "transform": [{"filter": "datum.p == 'b'"}],
     "mark": {"type": "text", "fontSize": 23, "align": "center", "baseline": "middle"},
     "encoding": {"x": {"field": "lon", "type": "quantitative", "scale": {"domain": [-98.35, 94.6], "nice": false, "zero": false},
            "axis": {"values": [-80,-70,-60,-50,-40,-30,-20,-10,0,10,20,30,40,50,60,70,80,90], "labelExpr": "datum.value % 20 == 0 ? abs(datum.value) + '°' : ''", "tickSize": -10, "labelPadding": 19, "offset": -41, "domain": false, "grid": false, "title": null}},
                  "y": {"field": "km", "type": "quantitative", "scale": {"domain": [-0.77, 7.34], "nice": false, "zero": false},
            "axis": {"values": [0,1,2,3,4,5,6,7], "tickSize": -12, "labelPadding": 26, "labelOffset": {"condition": {"test": "datum.value == 7", "value": 4}, "value": 0}, "offset": -64, "domain": false, "grid": false, "title": null}},
                  "text": {"field": "t"}}},
    {"data": {"name": "vlabels"}, "transform": [{"filter": "datum.p == 'b'"}],
     "mark": {"type": "text", "fontSize": 20, "angle": 270, "align": "center", "baseline": "middle"},
     "encoding": {"x": {"field": "lon", "type": "quantitative", "scale": {"domain": [-98.35, 94.6], "nice": false, "zero": false},
            "axis": {"values": [-80,-70,-60,-50,-40,-30,-20,-10,0,10,20,30,40,50,60,70,80,90], "labelExpr": "datum.value % 20 == 0 ? abs(datum.value) + '°' : ''", "tickSize": -10, "labelPadding": 19, "offset": -41, "domain": false, "grid": false, "title": null}},
                  "y": {"field": "km", "type": "quantitative", "scale": {"domain": [-0.77, 7.34], "nice": false, "zero": false},
            "axis": {"values": [0,1,2,3,4,5,6,7], "tickSize": -12, "labelPadding": 26, "labelOffset": {"condition": {"test": "datum.value == 7", "value": 4}, "value": 0}, "offset": -64, "domain": false, "grid": false, "title": null}},
                  "text": {"field": "t"}}},
    {"data": {"name": "tags"}, "transform": [{"filter": "datum.p == 'b'"}],
     "mark": {"type": "text", "fontSize": 21, "align": "center", "baseline": "middle"},
     "encoding": {"x": {"field": "lon", "type": "quantitative", "scale": {"domain": [-98.35, 94.6], "nice": false, "zero": false},
            "axis": {"values": [-80,-70,-60,-50,-40,-30,-20,-10,0,10,20,30,40,50,60,70,80,90], "labelExpr": "datum.value % 20 == 0 ? abs(datum.value) + '°' : ''", "tickSize": -10, "labelPadding": 19, "offset": -41, "domain": false, "grid": false, "title": null}},
                  "y": {"field": "km", "type": "quantitative", "scale": {"domain": [-0.77, 7.34], "nice": false, "zero": false},
            "axis": {"values": [0,1,2,3,4,5,6,7], "tickSize": -12, "labelPadding": 26, "labelOffset": {"condition": {"test": "datum.value == 7", "value": 4}, "value": 0}, "offset": -64, "domain": false, "grid": false, "title": null}},
                  "text": {"field": "t"}}}
   ]
  }
 ],
 "config": {
  "view": {"stroke": null},
  "axis": {"grid": false, "labelFont": "DejaVu Sans", "labelFontWeight": "bold", "labelFontSize": 23, "labelColor": "black", "tickColor": "black", "tickWidth": 2.5, "labelOverlap": false, "labelFlush": false, "labelBound": false},
  "text": {"font": "DejaVu Sans", "fontWeight": "bold", "color": "black"}
 }
}
